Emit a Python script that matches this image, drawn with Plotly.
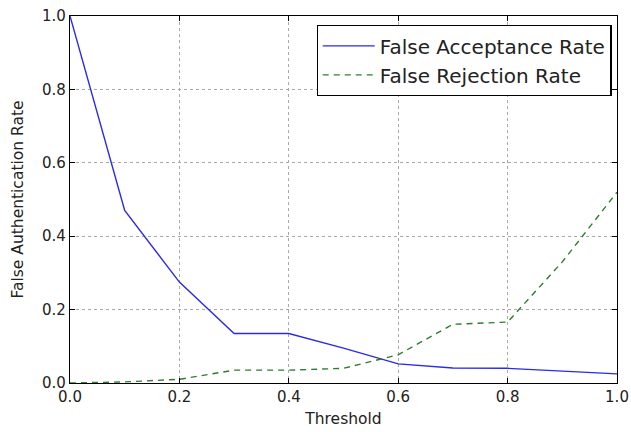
import plotly.graph_objects as go

thresholds = [0.0, 0.1, 0.2, 0.3, 0.4, 0.5, 0.6, 0.7, 0.8, 0.9, 1.0]
far = [1.0, 0.47, 0.275, 0.135, 0.135, 0.095, 0.052, 0.041, 0.040, 0.033, 0.025]
frr = [0.0, 0.003, 0.01, 0.035, 0.035, 0.04, 0.077, 0.16, 0.166, 0.33, 0.52]
tick_vals = [0.0, 0.2, 0.4, 0.6, 0.8, 1.0]
tick_text = ["0.0", "0.2", "0.4", "0.6", "0.8", "1.0"]

FONT = "DejaVu Sans"

fig = go.Figure()
fig.add_trace(go.Scatter(x=thresholds, y=far, mode="lines", name="False Acceptance Rate",
                         legendgroup="a",
                         line=dict(color="#2a2ae8", width=1.4)))
fig.add_trace(go.Scatter(x=thresholds, y=frr, mode="lines", name="False Rejection Rate",
                         legendgroup="b",
                         line=dict(color="#2e7d2e", width=1.4, dash="6px,5px")))

axis_common = dict(
    range=[0, 1], tickvals=tick_vals, ticktext=tick_text,
    showline=True, linecolor="black", linewidth=1.2, mirror="ticks",
    ticks="inside", ticklen=5, tickcolor="black",
    showgrid=True, gridcolor="#a8a8a8", griddash="dot", gridwidth=1,
    zeroline=False, tickfont=dict(family=FONT, size=15, color="#222"),
    ticklabeloverflow="allow", automargin=False,
)

fig.update_layout(
    width=631, height=432,
    margin=dict(l=70, r=14, t=16, b=49),
    paper_bgcolor="white", plot_bgcolor="white",
    font=dict(family=FONT, color="#222"),
    xaxis=dict(**axis_common, title=dict(text="Threshold", font=dict(family=FONT, size=15.5), standoff=8)),
    yaxis=dict(**axis_common, title=dict(text="False Authentication Rate", font=dict(family=FONT, size=15.5), standoff=14)),
    legend=dict(x=0.99, y=0.975, xanchor="right", yanchor="top",
                bgcolor="white", bordercolor="black", borderwidth=1.2,
                font=dict(family=FONT, size=20, color="#222"),
                itemwidth=52,
                traceorder="grouped", tracegroupgap=0),
    showlegend=True,
)

fig.write_html("out.html")
